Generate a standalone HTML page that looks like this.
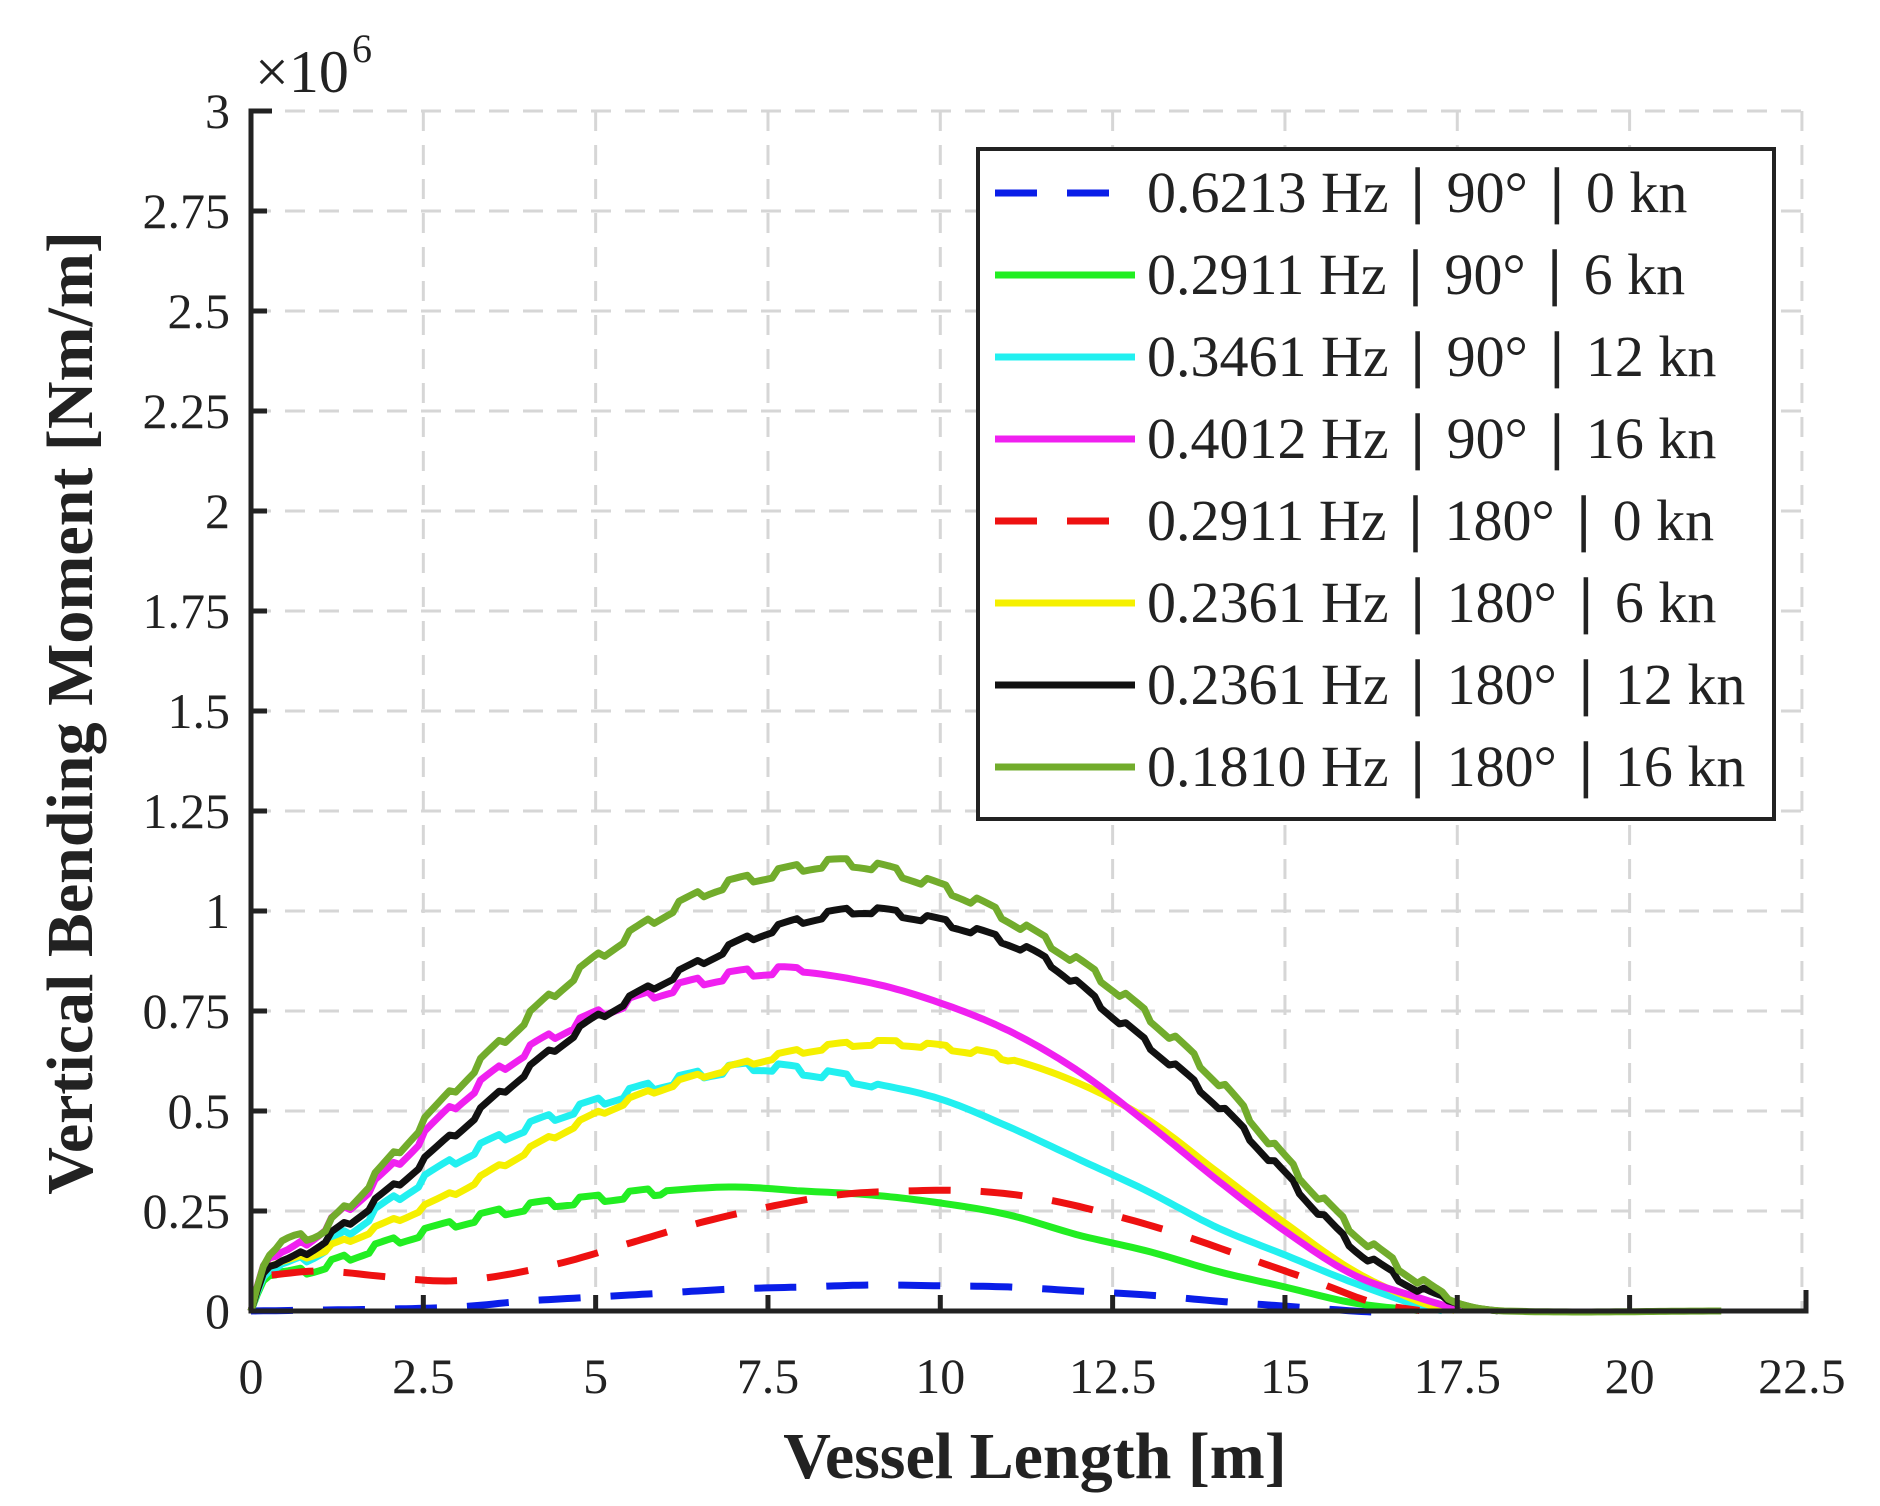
<!DOCTYPE html>
<html><head><meta charset="utf-8"><style>
html,body{margin:0;padding:0;background:#fff;}
svg{display:block;}
text{font-family:"Liberation Serif",serif;fill:#222;}
</style></head><body>
<svg id="s" width="1880" height="1506" viewBox="0 0 1880 1506" xmlns="http://www.w3.org/2000/svg">
<g id="grid" stroke="#d6d6d6" stroke-width="3" stroke-dasharray="20,14" fill="none"></g>
<g id="curves" fill="none" stroke-linejoin="round"></g>
<g id="axes" stroke="#222" stroke-width="5" fill="none"></g>
<g id="labels" font-size="50"></g>
<text x="255" y="92" font-size="60">×10</text>
<text x="352" y="62" font-size="40">6</text>
<text x="1035" y="1478" font-size="66" font-weight="bold" text-anchor="middle">Vessel Length [m]</text>
<text transform="translate(92,713) rotate(-90)" font-size="66" font-weight="bold" text-anchor="middle">Vertical Bending Moment [Nm/m]</text>
<rect x="978" y="149" width="796" height="670" fill="#fff" stroke="#222" stroke-width="4"/>
<g id="legend" font-size="58"></g>
</svg>
<script>
var NS="http://www.w3.org/2000/svg";
function X(v){return 251+v*68.93;}
function Y(m){return 1311-m*400;}
function el(p,t,a,txt){var e=document.createElementNS(NS,t);for(var k in a)e.setAttribute(k,a[k]);if(txt!=null)e.textContent=txt;document.getElementById(p).appendChild(e);return e;}
for(var i=0;i<=9;i++){var x=X(i*2.5);el('grid','line',{x1:x,y1:111,x2:x,y2:1311});
 el('labels','text',{x:x,y:1393,'text-anchor':'middle'},String(i*2.5));}
for(var j=0;j<=12;j++){var y=Y(j*0.25);el('grid','line',{x1:251,y1:y,x2:1806,y2:y});
 el('labels','text',{x:230,y:y+17,'text-anchor':'end'},String(+(j*0.25).toFixed(2)));}
el('axes','polyline',{points:"272,111 251,111 251,1311 1806,1311 1806,1290"});
for(var i=1;i<9;i++){el('axes','line',{x1:X(i*2.5),y1:1311,x2:X(i*2.5),y2:1295});}
for(var j=1;j<12;j++){el('axes','line',{x1:251,y1:Y(j*0.25),x2:267,y2:Y(j*0.25)});}
function interp(pts,x){for(var i=0;i<pts.length-1;i++){if(x>=pts[i][0]&&x<=pts[i+1][0]){
 var p0=pts[Math.max(0,i-1)],p1=pts[i],p2=pts[i+1],p3=pts[Math.min(pts.length-1,i+2)];
 var t=(x-p1[0])/(p2[0]-p1[0]);
 var m1=(p2[1]-p0[1])/(p2[0]-p0[0]||1)*(p2[0]-p1[0]),m2=(p3[1]-p1[1])/(p3[0]-p1[0]||1)*(p2[0]-p1[0]);
 if(i==0)m1=p2[1]-p1[1];
 var t2=t*t,t3=t2*t;return (2*t3-3*t2+1)*p1[1]+(t3-2*t2+t)*m1+(-2*t3+3*t2)*p2[1]+(t3-t2)*m2;}}
 return pts[pts.length-1][1];}
function curve(pts,color,w,dash,jit,jend){
 var d="",x0=pts[0][0],x1=pts[pts.length-1][0],n=0;
 for(var x=x0;x<=x1+1e-9;x+=0.09){var v=interp(pts,x);
  if(jit&&x>0.4&&v>0.03&&x<(jend||99)){var ph=Math.floor(x/0.36)%2;v+=ph?jit:-jit;}
  d+=(n++?"L":"M")+X(x).toFixed(1)+","+Y(v).toFixed(1);}
 var a={d:d,stroke:color,'stroke-width':w};if(dash)a['stroke-dasharray']=dash;
 el('curves','path',a);}
var B=[[0,0],[2,0.005],[3,0.01],[4,0.025],[5,0.035],[6,0.045],[7,0.055],[8,0.06],[9,0.065],[10,0.063],[11,0.06],[12,0.05],[13,0.04],[14,0.025],[15,0.012],[16,0],[16.5,-0.005]];
var R=[[0.3,0.09],[1,0.1],[2,0.085],[2.8,0.075],[3.5,0.085],[4.5,0.12],[5.5,0.17],[6.5,0.22],[7.5,0.26],[8.5,0.29],[9.5,0.3],[10.5,0.3],[11.5,0.28],[12.5,0.24],[13.5,0.19],[14.5,0.13],[15.5,0.07],[16.3,0.02],[17,0]];
var G=[[0,0],[0.2,0.08],[0.5,0.09],[1,0.11],[2,0.17],[3,0.22],[4,0.26],[5,0.28],[6,0.3],[7,0.31],[8,0.3],[9,0.29],[10,0.27],[11,0.24],[12,0.19],[13,0.15],[14,0.1],[15,0.06],[16,0.02],[17,0]];
var C=[[0,0],[0.2,0.09],[0.5,0.11],[1,0.15],[2,0.27],[3,0.38],[4,0.46],[5,0.52],[6,0.57],[7.2,0.61],[8,0.6],[9,0.57],[10,0.53],[11,0.46],[12,0.38],[13,0.3],[14,0.21],[15,0.14],[16,0.07],[17,0.01],[17.3,0]];
var M=[[0,0],[0.2,0.12],[0.5,0.14],[1,0.2],[2,0.35],[3,0.52],[4,0.65],[5,0.74],[6,0.8],[7,0.84],[7.8,0.85],[9,0.82],[10,0.77],[11,0.7],[12,0.6],[13,0.47],[14,0.33],[15,0.2],[16,0.09],[17,0.03],[17.6,0]];
var Yl=[[0,0],[0.2,0.1],[0.5,0.12],[1,0.15],[2,0.22],[3,0.3],[4,0.4],[5,0.49],[6,0.56],[7,0.61],[8,0.65],[9,0.67],[10,0.66],[11,0.63],[12,0.57],[13,0.48],[14,0.35],[15,0.22],[16,0.1],[17,0.02],[17.5,0]];
var K=[[0,0],[0.2,0.1],[0.5,0.12],[1,0.17],[2,0.3],[3,0.45],[4,0.6],[5,0.73],[6.5,0.87],[7.5,0.95],[8.7,1.0],[9.5,0.99],[10.5,0.95],[11.5,0.88],[12.5,0.74],[14,0.52],[15,0.34],[16,0.16],[17,0.05],[17.7,0.01],[18.1,0]];
var O=[[0,0],[0.2,0.12],[0.5,0.17],[1,0.2],[1.5,0.28],[2.5,0.47],[3.5,0.65],[5,0.88],[6.5,1.04],[7.5,1.09],[8.7,1.12],[10,1.06],[11,0.98],[12.5,0.81],[14,0.58],[15,0.38],[16,0.2],[17,0.07],[17.5,0.02],[18.2,0],[21.4,0]];
curve(B,'#0a1ee8',7,'42,30',0);
curve(G,'#22ee22',7,null,0.009,6);
curve(C,'#22f0f0',7,null,0.01,9);
curve(Yl,'#f5f000',7,null,0.006,11);
curve(M,'#f020f0',7,null,0.01,8);
curve(R,'#ee1111',7,'42,30',0);
curve(K,'#111111',7,null,0.008);
curve(O,'#72ac2c',7,null,0.01);
var L=[['#0a1ee8','42,30','0.6213 Hz ∣ 90° ∣ 0 kn'],['#22ee22',null,'0.2911 Hz ∣ 90° ∣ 6 kn'],['#22f0f0',null,'0.3461 Hz ∣ 90° ∣ 12 kn'],['#f020f0',null,'0.4012 Hz ∣ 90° ∣ 16 kn'],['#ee1111','42,30','0.2911 Hz ∣ 180° ∣ 0 kn'],['#f5f000',null,'0.2361 Hz ∣ 180° ∣ 6 kn'],['#111111',null,'0.2361 Hz ∣ 180° ∣ 12 kn'],['#72ac2c',null,'0.1810 Hz ∣ 180° ∣ 16 kn']];
for(var i=0;i<L.length;i++){var y=193+i*82;
 var a={x1:995,y1:y,x2:1135,y2:y,stroke:L[i][0],'stroke-width':7};if(L[i][1])a['stroke-dasharray']=L[i][1];
 el('legend','line',a);el('legend','text',{x:1147,y:y+19},L[i][2]);}
</script>
</body></html>
